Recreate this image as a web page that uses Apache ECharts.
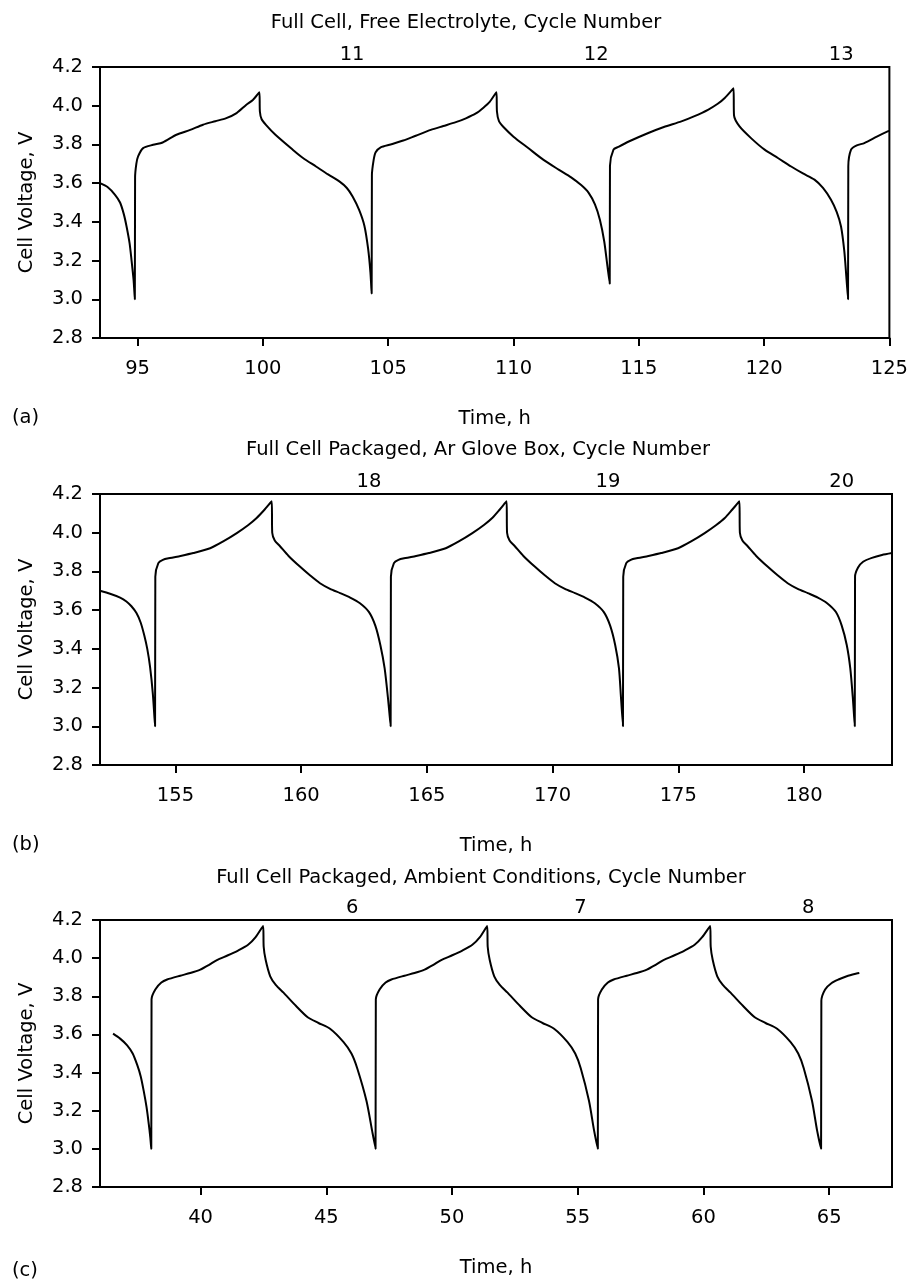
<!DOCTYPE html>
<html>
<head>
<meta charset="utf-8">
<script src="https://cdn.jsdelivr.net/npm/echarts@6/dist/echarts.min.js"></script>
<style>html,body{margin:0;padding:0;background:#fff}#c{width:911px;height:1279px}</style>
</head>
<body>
<div id="c"></div>
<script>
// ---------- data ----------
const panelTitles = ['Full Cell, Free Electrolyte, Cycle Number',
  'Full Cell Packaged, Ar Glove Box, Cycle Number',
  'Full Cell Packaged, Ambient Conditions, Cycle Number'];
const panelLetters = ['(a)', '(b)', '(c)'];

const xRangeA = [93.5, 125];
const xRangeB = [152, 183.5];
const xRangeC = [36, 67.5];
const xTicksA = [95, 100, 105, 110, 115, 120, 125];
const xTicksB = [155, 160, 165, 170, 175, 180];
const xTicksC = [40, 45, 50, 55, 60, 65];

const cycleNamesA = ['11', '12', '13'];
const cycleTimesA = [103.56, 113.3, 123.08];
const cycleNamesB = ['18', '19', '20'];
const cycleTimesB = [162.7, 172.2, 181.5];
const cycleNamesC = ['6', '7', '8'];
const cycleTimesC = [46.03, 55.11, 64.17];

const timeA = [
  93.5, 93.8, 94.1, 94.3, 94.45, 94.56, 94.68, 94.76, 94.84, 94.89,
  94.90, 94.95, 95.02, 95.22, 95.62, 96.0, 96.55, 97.1, 97.61, 98.1, 98.54, 98.95, 99.34, 99.6, 99.86,
  99.88, 99.95, 100.13, 100.5, 101.19, 101.6, 102.12, 102.6, 103.05, 103.35, 103.58, 103.84, 104.05, 104.2, 104.29, 104.34,
  104.35, 104.42, 104.5, 104.7, 105.1, 105.6, 106.1, 106.7, 107.2, 107.7, 108.1, 108.5, 108.8, 109.05, 109.32,
  109.34, 109.42, 109.6, 110.0, 110.6, 111.2, 111.8, 112.3, 112.7, 113.0, 113.25, 113.45, 113.62, 113.74, 113.84,
  113.85, 113.99, 114.18, 114.6, 115.38, 116.0, 116.7, 117.2, 117.76, 118.15, 118.43, 118.78,
  118.80, 119.02, 119.5, 120.02, 120.55, 121.08, 121.55, 122.01, 122.35, 122.67, 122.9, 123.07, 123.2, 123.28, 123.35,
  123.36, 123.47, 123.7, 124.0, 124.5, 124.93, 125.0
];
const voltA = [
  3.60, 3.58, 3.54, 3.50, 3.44, 3.376, 3.29, 3.20, 3.10, 3.00,
  3.63, 3.70, 3.738, 3.781, 3.798, 3.81, 3.85, 3.875, 3.902, 3.92, 3.936, 3.962, 4.005, 4.03, 4.07,
  3.97, 3.93, 3.90, 3.85, 3.773, 3.73, 3.686, 3.645, 3.609, 3.575, 3.531, 3.462, 3.38, 3.26, 3.14, 3.03,
  3.64, 3.72, 3.76, 3.785, 3.80, 3.82, 3.845, 3.875, 3.895, 3.915, 3.935, 3.96, 3.99, 4.02, 4.07,
  3.97, 3.92, 3.89, 3.84, 3.78, 3.72, 3.67, 3.63, 3.59, 3.55, 3.49, 3.41, 3.30, 3.18, 3.08,
  3.69, 3.773, 3.787, 3.815, 3.859, 3.89, 3.919, 3.945, 3.979, 4.01, 4.04, 4.09,
  3.95, 3.893, 3.83, 3.773, 3.73, 3.686, 3.65, 3.618, 3.575, 3.514, 3.45, 3.376, 3.25, 3.12, 3.00,
  3.686, 3.773, 3.795, 3.807, 3.84, 3.867, 3.87
];

const timeB = [
  152.0, 152.4, 152.8, 153.05, 153.25, 153.45, 153.62, 153.76, 153.88, 153.99, 154.1, 154.19,
  154.2, 154.32, 154.5, 154.78, 155.2, 155.71, 156.38, 156.9, 157.44, 157.9, 158.23, 158.55, 158.83,
  158.85, 158.95, 159.16, 159.5, 159.95, 160.35, 160.75, 161.15, 161.55, 161.95, 162.34, 162.7, 162.95, 163.15, 163.32, 163.45, 163.56,
  163.57, 163.69, 163.87, 164.15, 164.57, 165.08, 165.75, 166.27, 166.81, 167.27, 167.6, 167.9, 168.17,
  168.19, 168.29, 168.5, 168.84, 169.29, 169.69, 170.09, 170.49, 170.89, 171.29, 171.68, 172.04, 172.29, 172.49, 172.64, 172.72, 172.8,
  172.81, 172.93, 173.11, 173.39, 173.81, 174.32, 174.99, 175.51, 176.05, 176.51, 176.85, 177.15, 177.43,
  177.45, 177.55, 177.76, 178.1, 178.55, 178.95, 179.35, 179.75, 180.15, 180.55, 180.92, 181.27, 181.5, 181.7, 181.84, 181.94, 182.02,
  182.03, 182.15, 182.35, 182.7, 183.1, 183.5
];
const voltB = [
  3.70, 3.685, 3.665, 3.645, 3.62, 3.585, 3.535, 3.47, 3.40, 3.308, 3.17, 3.0,
  3.773, 3.843, 3.86, 3.869, 3.88, 3.895, 3.92, 3.955, 3.998, 4.04, 4.076, 4.12, 4.162,
  4.00, 3.96, 3.93, 3.88, 3.825, 3.78, 3.739, 3.71, 3.688, 3.665, 3.636, 3.59, 3.52, 3.42, 3.30, 3.15, 3.00,
  3.773, 3.843, 3.86, 3.869, 3.88, 3.895, 3.92, 3.955, 3.998, 4.04, 4.076, 4.12, 4.162,
  4.00, 3.96, 3.93, 3.88, 3.825, 3.78, 3.739, 3.71, 3.688, 3.665, 3.636, 3.59, 3.52, 3.42, 3.30, 3.15, 3.00,
  3.773, 3.843, 3.86, 3.869, 3.88, 3.895, 3.92, 3.955, 3.998, 4.04, 4.076, 4.12, 4.162,
  4.00, 3.96, 3.93, 3.88, 3.825, 3.78, 3.739, 3.71, 3.688, 3.665, 3.636, 3.59, 3.52, 3.42, 3.30, 3.15, 3.00,
  3.773, 3.82, 3.85, 3.87, 3.885, 3.895
];

const timeC = [
  36.52, 36.8, 37.08, 37.3, 37.48, 37.62, 37.74, 37.85, 37.94, 38.0, 38.04,
  38.05, 38.2, 38.44, 38.67, 39.19, 39.59, 39.99, 40.34, 40.65, 41.09, 41.49, 41.89, 42.19, 42.49,
  42.51, 42.59, 42.77, 42.99, 43.3, 43.79, 44.26, 44.69, 45.15, 45.68, 46.0, 46.23, 46.6, 46.82, 46.96,
  46.97, 47.12, 47.36, 47.59, 48.11, 48.51, 48.91, 49.26, 49.57, 50.01, 50.41, 50.81, 51.11, 51.4,
  51.42, 51.5, 51.68, 51.9, 52.21, 52.7, 53.17, 53.6, 54.06, 54.59, 54.9, 55.12, 55.45, 55.65, 55.8,
  55.81, 55.96, 56.2, 56.43, 56.95, 57.35, 57.75, 58.1, 58.41, 58.85, 59.25, 59.65, 59.95, 60.27,
  60.29, 60.37, 60.55, 60.77, 61.08, 61.57, 62.04, 62.47, 62.93, 63.46, 63.77, 63.99, 64.32, 64.52, 64.68,
  64.69, 64.84, 65.1, 65.37, 65.7, 66.09, 66.2
];
const voltC = [
  3.604, 3.578, 3.543, 3.50, 3.44, 3.38, 3.303, 3.22, 3.13, 3.06, 3.0,
  3.785, 3.836, 3.872, 3.888, 3.908, 3.922, 3.94, 3.965, 3.99, 4.015, 4.04, 4.07, 4.11, 4.169,
  4.06, 3.99, 3.905, 3.86, 3.819, 3.75, 3.69, 3.66, 3.63, 3.561, 3.50, 3.423, 3.251, 3.097, 3.0,
  3.785, 3.836, 3.872, 3.888, 3.908, 3.922, 3.94, 3.965, 3.99, 4.015, 4.04, 4.07, 4.11, 4.169,
  4.06, 3.99, 3.905, 3.86, 3.819, 3.75, 3.69, 3.66, 3.63, 3.561, 3.50, 3.423, 3.251, 3.097, 3.0,
  3.785, 3.836, 3.872, 3.888, 3.908, 3.922, 3.94, 3.965, 3.99, 4.015, 4.04, 4.07, 4.11, 4.169,
  4.06, 3.99, 3.905, 3.86, 3.819, 3.75, 3.69, 3.66, 3.63, 3.561, 3.50, 3.423, 3.251, 3.097, 3.0,
  3.776, 3.836, 3.87, 3.888, 3.905, 3.919, 3.922
];

const yMin = 2.8, yMax = 4.2, yStep = 0.2;

// ---------- layout ----------
const FONT = "'DejaVu Sans', sans-serif";
const FS = 19.5;
const gridTops = [67, 494, 920];
const gridH = 271, gridL = 100, gridW = 792;
const titleCenters = [[466, 23], [478, 450], [481, 878]];

const panels = [
  {t: timeA, v: voltA, xr: xRangeA, ticks: xTicksA, cn: cycleNamesA, ct: cycleTimesA},
  {t: timeB, v: voltB, xr: xRangeB, ticks: xTicksB, cn: cycleNamesB, ct: cycleTimesB},
  {t: timeC, v: voltC, xr: xRangeC, ticks: xTicksC, cn: cycleNamesC, ct: cycleTimesC}
];

const grid = [], xAxis = [], yAxis = [], series = [], graphic = [];
panels.forEach((p, i) => {
  grid.push({left: gridL, top: gridTops[i], width: gridW, height: gridH,
    show: true, borderColor: '#000', borderWidth: 2, backgroundColor: 'transparent'});
  xAxis.push({
    type: 'value', gridIndex: i, min: p.xr[0], max: p.xr[1],
    name: 'Time, h', nameLocation: 'middle', nameGap: 71,
    nameTextStyle: {fontFamily: FONT, fontSize: FS, color: '#000'},
    axisLine: {show: true, onZero: false, lineStyle: {color: '#000', width: 2}},
    axisTick: {show: true, inside: false, length: 8, customValues: p.ticks, lineStyle: {color: '#000', width: 2}},
    axisLabel: {show: true, margin: 21, customValues: p.ticks, fontFamily: FONT, fontSize: FS, color: '#000'},
    splitLine: {show: false}
  });
  yAxis.push({
    type: 'value', gridIndex: i, min: yMin, max: yMax, interval: yStep,
    name: 'Cell Voltage, V', nameLocation: 'middle', nameGap: 63,
    nameTextStyle: {fontFamily: FONT, fontSize: FS, color: '#000'},
    axisLine: {show: true, onZero: false, lineStyle: {color: '#000', width: 2}},
    axisTick: {show: true, inside: false, length: 8, lineStyle: {color: '#000', width: 2}},
    axisLabel: {show: true, margin: 17, fontFamily: FONT, fontSize: FS, color: '#000',
      formatter: v => v.toFixed(1)},
    splitLine: {show: false}
  });
  series.push({
    type: 'line', xAxisIndex: i, yAxisIndex: i,
    data: p.t.map((t, k) => [t, p.v[k]]),
    showSymbol: false, symbol: 'none', smooth: 0.25,
    lineStyle: {color: '#000', width: 2}, animation: false
  });
  series.push({
    type: 'scatter', xAxisIndex: i, yAxisIndex: i, clip: false,
    symbolSize: 0, silent: true, animation: false,
    itemStyle: {opacity: 1, color: '#000'},
    data: p.ct.map((t, k) => [t, yMax, p.cn[k]]),
    label: {show: true, position: 'top', distance: 2, fontFamily: FONT, fontSize: FS, color: '#000', opacity: 1,
      formatter: d => d.value[2]}
  });
  graphic.push({type: 'text', x: titleCenters[i][0], y: titleCenters[i][1],
    style: {text: panelTitles[i], font: FS + 'px ' + FONT, fill: '#000', align: 'center', verticalAlign: 'middle'}});
  graphic.push({type: 'text', x: 12, y: gridTops[i] + gridH + 80,
    style: {text: panelLetters[i], font: FS + 'px ' + FONT, fill: '#000', align: 'left', verticalAlign: 'middle'}});
});

const chart = echarts.init(document.getElementById('c'), null, {renderer: 'canvas'});
chart.setOption({
  animation: false,
  backgroundColor: '#fff',
  grid, xAxis, yAxis, series, graphic
});
</script>
</body>
</html>
